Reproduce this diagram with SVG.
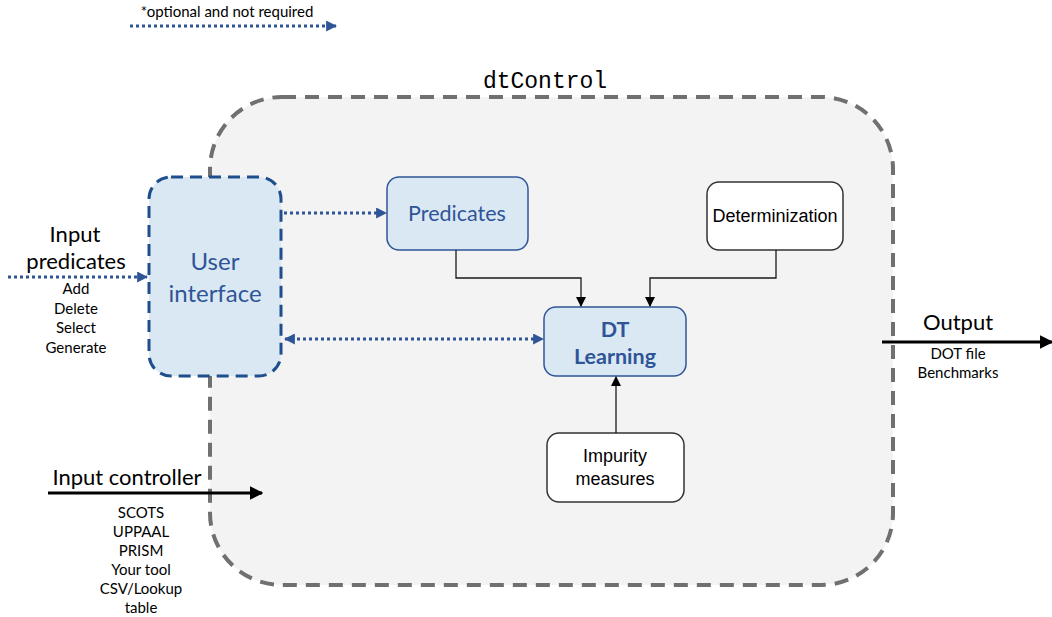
<svg xmlns="http://www.w3.org/2000/svg" width="1052" height="617" viewBox="0 0 1052 617">
  <style>
    .label { font-family: Lato, "Open Sans", sans-serif; fill: #000; text-anchor: middle; }
    .big { font-size: 22px; }
    .small { font-size: 15px; }
    .blue-text { font-family: Lato, "Open Sans", sans-serif; fill: #2f5597; text-anchor: middle; }
    .sans { font-family: "Liberation Sans", Arial, sans-serif; font-size: 18px; fill: #000; text-anchor: middle; }
    .box-blue { fill: #dae8f4; stroke: #2f5597; stroke-width: 1.5; }
    .box-white { fill: #ffffff; stroke: #333333; stroke-width: 1.5; }
    .flow { fill: none; stroke: #1a1a1a; stroke-width: 1.3; }
    .thick { fill: none; stroke: #000; stroke-width: 3; }
    .dotted { fill: none; stroke: #2f5597; stroke-width: 3; stroke-dasharray: 3 3; }
  </style>
  <defs>
    <marker id="arrowBlack" viewBox="0 0 10 10" refX="9" refY="5" markerWidth="10" markerHeight="10" markerUnits="userSpaceOnUse" orient="auto">
      <path d="M0,0 L10,5 L0,10 z" fill="#000"/>
    </marker>
    <marker id="arrowThick" viewBox="0 0 10 10" refX="9" refY="5" markerWidth="4.5" markerHeight="4.5" orient="auto">
      <path d="M0,0 L10,5 L0,10 z" fill="#000"/>
    </marker>
    <marker id="arrowBlue" viewBox="0 0 10 10" refX="9" refY="5" markerWidth="11" markerHeight="11" markerUnits="userSpaceOnUse" orient="auto-start-reverse">
      <path d="M0,0 L10,5 L0,10 z" fill="#2f5597"/>
    </marker>
  </defs>

  <!-- legend -->
  <g id="legend">
    <text class="label small" x="227" y="17">*optional and not required</text>
    <path class="dotted" d="M130,26 H336" marker-end="url(#arrowBlue)"/>
  </g>

  <!-- dtControl container -->
  <g id="dtControl">
    <rect x="210" y="97" width="683" height="488" rx="72" ry="72" fill="#f3f3f3" stroke="#707070" stroke-width="4" stroke-dasharray="14 9"/>
    <text x="545" y="88" font-family="'Liberation Mono', 'DejaVu Sans Mono', monospace" font-size="23" fill="#000" text-anchor="middle">dtControl</text>
  </g>

  <!-- user interface -->
  <g id="user-interface">
    <rect x="149" y="177" width="132" height="199" rx="22" ry="22" fill="#dae8f4" stroke="#1f4e8c" stroke-width="3" stroke-dasharray="12 7"/>
    <text class="blue-text" font-size="24" x="215" y="270">User</text>
    <text class="blue-text" font-size="24" x="215" y="302">interface</text>
  </g>

  <!-- predicates -->
  <g id="predicates">
    <rect class="box-blue" x="387" y="177" width="141" height="73" rx="12" ry="12"/>
    <text class="blue-text" font-size="21.5" x="457" y="221">Predicates</text>
  </g>

  <!-- determinization -->
  <g id="determinization">
    <rect class="box-white" x="707" y="182" width="136" height="68" rx="12" ry="12"/>
    <text class="sans" x="775" y="222">Determinization</text>
  </g>

  <!-- DT learning -->
  <g id="dt-learning">
    <rect class="box-blue" x="544" y="307" width="142" height="69" rx="12" ry="12"/>
    <text class="blue-text" font-size="21.5" font-weight="bold" x="615" y="337">DT</text>
    <text class="blue-text" font-size="21.5" font-weight="bold" x="615" y="364">Learning</text>
  </g>

  <!-- impurity measures -->
  <g id="impurity-measures">
    <rect class="box-white" x="547" y="433" width="137" height="69" rx="12" ry="12"/>
    <text class="sans" x="615" y="462">Impurity</text>
    <text class="sans" x="615" y="485">measures</text>
  </g>

  <!-- side labels -->
  <g id="input-predicates">
    <text class="label big" x="75" y="242">Input</text>
    <text class="label big" x="76" y="269">predicates</text>
    <text class="label small" x="76" y="294">Add</text>
    <text class="label small" x="76" y="314">Delete</text>
    <text class="label small" x="76" y="333">Select</text>
    <text class="label small" x="76" y="353">Generate</text>
  </g>
  <g id="input-controller">
    <text class="label big" x="127" y="485">Input controller</text>
    <text class="label small" x="141" y="518">SCOTS</text>
    <text class="label small" x="141" y="537">UPPAAL</text>
    <text class="label small" x="141" y="556">PRISM</text>
    <text class="label small" x="141" y="575">Your tool</text>
    <text class="label small" x="141" y="594">CSV/Lookup</text>
    <text class="label small" x="141" y="613">table</text>
  </g>
  <g id="output">
    <text class="label big" x="958" y="330">Output</text>
    <text class="label small" x="958" y="359">DOT file</text>
    <text class="label small" x="958" y="378">Benchmarks</text>
  </g>

  <!-- connectors -->
  <g id="connectors">
    <path class="flow" d="M456,250 V278 H581 V306" marker-end="url(#arrowBlack)"/>
    <path class="flow" d="M776,250 V278 H650 V306" marker-end="url(#arrowBlack)"/>
    <path class="flow" d="M616,433 V377" marker-end="url(#arrowBlack)"/>
    <path class="dotted" d="M284,213 H386" marker-end="url(#arrowBlue)"/>
    <path class="dotted" d="M285,339 H543" marker-start="url(#arrowBlue)" marker-end="url(#arrowBlue)"/>
    <path class="dotted" d="M8,277 H147" marker-end="url(#arrowBlue)"/>
    <path class="thick" d="M48,493 H262" marker-end="url(#arrowThick)"/>
    <path class="thick" d="M882,342 H1052" marker-end="url(#arrowThick)"/>
  </g>
</svg>
